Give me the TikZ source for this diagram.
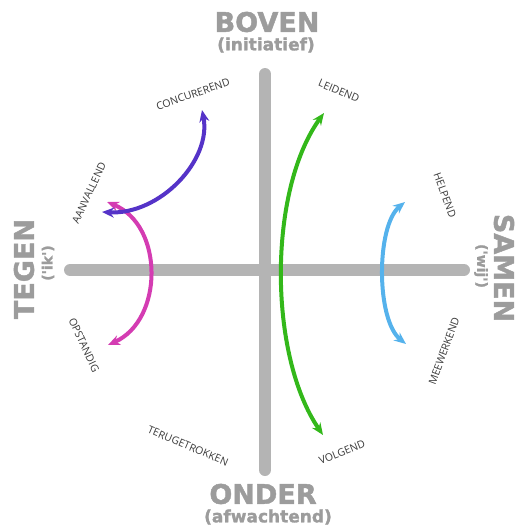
\documentclass[tikz,border=0pt]{standalone}
\usepackage{fontspec}
\setmainfont{Open Sans}
\newfontfamily\bigfont[BoldFeatures={FakeBold=1.6}]{DejaVu Sans}
\usetikzlibrary{arrows.meta}
\definecolor{bargray}{HTML}{B4B4B4}
\definecolor{txtgray}{HTML}{9C9C9C}
\definecolor{labgray}{HTML}{3A3A3A}
\definecolor{cgreen}{HTML}{33B81A}
\definecolor{cblue}{HTML}{55B2EC}
\definecolor{cmag}{HTML}{D43CB2}
\definecolor{cpurple}{HTML}{5533C8}
\begin{document}
\begin{tikzpicture}[x=1pt,y=-1pt,
  bar/.style={line width=12pt, draw=bargray, line cap=round},
  big/.style={font=\bigfont\bfseries\fontsize{27}{27}\selectfont, text=txtgray, inner sep=0pt},
  sub/.style={font=\bigfont\bfseries\fontsize{17}{17}\selectfont, text=txtgray, inner sep=0pt},
  subs/.style={font=\bigfont\bfseries\fontsize{14}{14}\selectfont, text=txtgray, inner sep=0pt},
  lab/.style={font=\fontsize{10.5}{11}\selectfont, text=labgray, inner sep=0pt},
  twoway/.style={line width=4pt, {Stealth[length=12pt,width=10pt,inset=4pt]}-{Stealth[length=12pt,width=10pt,inset=4pt]}}]
\useasboundingbox (0,0) rectangle (515,528);
% axes
\coordinate (vt) at (265,74);
\coordinate (vb) at (265,470);
\coordinate (hl) at (70,270);
\coordinate (hr) at (464,270);
\draw[bar] (vt) -- (vb);
\draw[bar] (hl) -- (hr);
% main labels
\node[big] (boven) at (267,22) {BOVEN};
\node[sub] (boveni) at (266,45) {(initiatief)};
\node[big] (onder) at (263,494) {ONDER};
\node[sub] (onderi) at (268,517) {(afwachtend)};
\node[big, rotate=90] (tegen) at (24,269) {TEGEN};
\node[subs, rotate=90] (tegeni) at (48,263) {('ik')};
\node[big, rotate=-90] (samen) at (504,268) {SAMEN};
\node[subs, rotate=-90] (sameni) at (481,266) {('wij')};
% small labels
\node[lab, rotate=19] (conc) at (193,94) {CONCUREREND};
\node[lab, rotate=65] (aanv) at (89,193) {AANVALLEND};
\node[lab, rotate=-23] (leid) at (339,91) {LEIDEND};
\node[lab, rotate=-70] (help) at (445,195) {HELPEND};
\node[lab, rotate=70] (meew) at (444,351) {MEEWERKEND};
\node[lab, rotate=22] (volg) at (342,452) {VOLGEND};
\node[lab, rotate=-23] (teru) at (188,446) {TERUGETROKKEN};
\node[lab, rotate=-65] (opst) at (84,345) {OPSTANDIG};
% arrow ends
\coordinate (g1) at (324,113);
\coordinate (g2) at (323,435);
\coordinate (b1) at (405,202);
\coordinate (b2) at (406,344);
\coordinate (m1) at (107,202);
\coordinate (m2) at (108,345);
\coordinate (p1) at (202,110);
\coordinate (p2) at (102,212);
% arrows
\draw[twoway, cgreen] (g1) .. controls (268,190) and (268,355) .. (g2);
\draw[twoway, cblue] (b1) .. controls (376,226) and (376,320) .. (b2);
\draw[twoway, cmag] (m1) .. controls (164,225) and (164,320) .. (m2);
\draw[twoway, cpurple] (p1) .. controls (212,160) and (160,215) .. (p2);
\end{tikzpicture}
\end{document}
